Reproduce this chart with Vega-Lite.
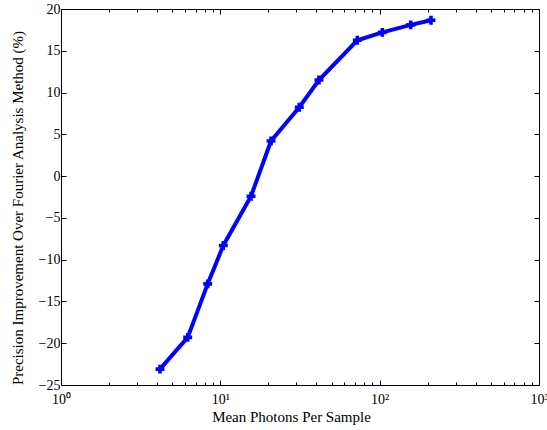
{
  "$schema": "https://vega.github.io/schema/vega-lite/v6.json",
  "width": 478,
  "height": 376,
  "autosize": {"type": "none"},
  "padding": {"left": 61, "top": 9, "right": 8, "bottom": 45},
  "background": "white",
  "config": {
    "view": {"stroke": "black", "strokeWidth": 1},
    "font": "Liberation Serif",
    "axis": {
      "domain": false,
      "grid": false,
      "tickColor": "black",
      "tickWidth": 1,
      "labelColor": "black",
      "titleColor": "black",
      "labelFont": "Liberation Serif",
      "titleFont": "Liberation Serif",
      "labelFontSize": 14,
      "titleFontSize": 15,
      "titleFontWeight": "normal"
    }
  },
  "data": {
    "values": [
      {"photons": 4.18, "improvement": -23.1},
      {"photons": 6.24, "improvement": -19.3},
      {"photons": 8.33, "improvement": -12.9},
      {"photons": 10.44, "improvement": -8.3},
      {"photons": 15.58, "improvement": -2.4},
      {"photons": 20.8, "improvement": 4.2},
      {"photons": 31.3, "improvement": 8.24},
      {"photons": 41.6, "improvement": 11.5},
      {"photons": 72.4, "improvement": 16.25},
      {"photons": 103.9, "improvement": 17.2},
      {"photons": 156.6, "improvement": 18.1},
      {"photons": 210, "improvement": 18.65}
    ]
  },
  "layer": [
    {
      "mark": {"type": "line", "color": "#0000ff", "strokeWidth": 4, "clip": true},
      "encoding": {
        "x": {
          "field": "photons", "type": "quantitative",
          "scale": {"type": "log", "domain": [1, 1000], "nice": false},
          "axis": {
            "orient": "bottom",
            "values": [1,2,3,4,5,6,7,8,9,10,20,30,40,50,60,70,80,90,100,200,300,400,500,600,700,800,900,1000],
            "tickSize": {"condition": {"test": "datum.value == 1 || datum.value == 10 || datum.value == 100 || datum.value == 1000", "value": -5}, "value": -3},
            "labelExpr": "datum.value == 1 ? '10⁰' : datum.value == 10 ? '10¹' : datum.value == 100 ? '10²' : datum.value == 1000 ? '10³' : ''",
            "labelBaseline": "alphabetic",
            "labelPadding": 23,
            "labelFlush": false,
            "labelOverlap": false,
            "title": "Mean Photons Per Sample",
            "titleX": 230,
            "titleY": 36.7,
            "titleBaseline": "alphabetic"
          }
        },
        "y": {
          "field": "improvement", "type": "quantitative",
          "scale": {"domain": [-25, 20], "nice": false, "zero": false},
          "axis": {
            "orient": "left",
            "values": [-25,-20,-15,-10,-5,0,5,10,15,20],
            "tickSize": -5,
            "labelPadding": 6,
            "labelFlush": false,
            "labelOverlap": false,
            "title": "Precision Improvement Over Fourier Analysis Method (%)",
            "titleX": -38.5,
            "titleY": 198.5,
            "titleBaseline": "alphabetic"
          }
        }
      }
    },
    {
      "mark": {"type": "point", "shape": "cross", "filled": true, "color": "#0000ff", "size": 80, "opacity": 1},
      "encoding": {
        "x": {"field": "photons", "type": "quantitative", "scale": {"type": "log", "domain": [1, 1000], "nice": false}, "axis": null},
        "y": {"field": "improvement", "type": "quantitative", "scale": {"domain": [-25, 20], "nice": false, "zero": false}, "axis": null}
      }
    },
    {
      "mark": {"type": "point", "opacity": 0},
      "encoding": {
        "x": {
          "field": "photons", "type": "quantitative",
          "scale": {"type": "log", "domain": [1, 1000], "nice": false},
          "axis": {
            "orient": "top",
            "values": [1,2,3,4,5,6,7,8,9,10,20,30,40,50,60,70,80,90,100,200,300,400,500,600,700,800,900,1000],
            "tickSize": {"condition": {"test": "datum.value == 1 || datum.value == 10 || datum.value == 100 || datum.value == 1000", "value": -5}, "value": -3},
            "labels": false,
            "title": null
          }
        },
        "y": {
          "field": "improvement", "type": "quantitative",
          "scale": {"domain": [-25, 20], "nice": false, "zero": false},
          "axis": {
            "orient": "right",
            "values": [-25,-20,-15,-10,-5,0,5,10,15,20],
            "tickSize": -5,
            "labels": false,
            "title": null
          }
        }
      }
    }
  ],
  "resolve": {"axis": {"x": "independent", "y": "independent"}}
}
